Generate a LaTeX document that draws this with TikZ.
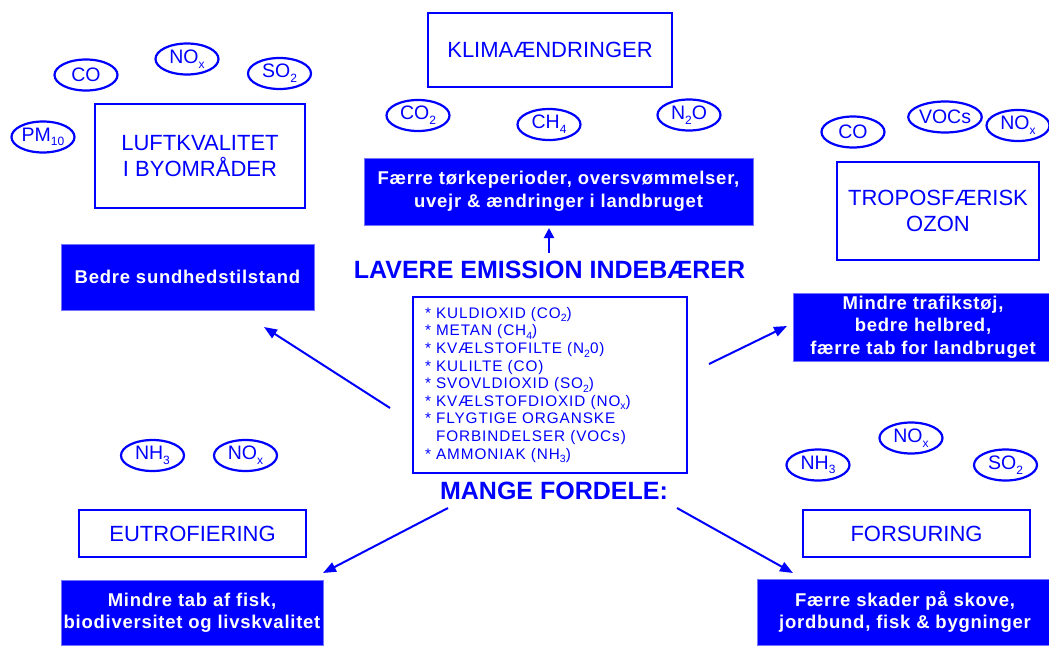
\documentclass[tikz,border=0pt]{standalone}
\usepackage{fontspec}
\setmainfont{Liberation Sans}
\newfontfamily\listfont[LetterSpace=6]{Liberation Sans}
\newfontfamily\boxfont[LetterSpace=4]{Liberation Sans}
\usetikzlibrary{arrows.meta,shapes.geometric}
\definecolor{eblue}{RGB}{0,0,255}
\newcommand{\lo}[2][12]{\raisebox{-0.45ex}{\fontsize{#1}{#1}\selectfont #2}}
\tikzset{
  wbox/.style={draw=eblue, line width=2pt, fill=white, text=eblue,
    font=\fontsize{22}{26}\selectfont, align=center, inner sep=0pt},
  bbox/.style={draw=eblue!55!white, line width=1pt, fill=eblue, text=white,
    font=\boxfont\bfseries\fontsize{18.5}{22.5}\selectfont, align=center, inner sep=0pt},
  gas/.style={ellipse, draw=eblue, line width=2.2pt, text=eblue,
    font=\fontsize{19.5}{19.5}\selectfont, minimum width=63pt, minimum height=31pt, inner sep=0pt},
  arr/.style={draw=eblue, line width=2pt, -{Triangle[length=13pt,width=10pt]}},
  headline/.style={text=eblue, font=\bfseries\fontsize{25}{27}\selectfont, inner sep=0pt}
}
\begin{document}
\begin{tikzpicture}[x=1pt,y=-1pt]
\useasboundingbox (0,0) rectangle (1049,646);
% top centre
\node[wbox, minimum width=244pt, minimum height=74pt] (klima) at (550,49.5) {KLIMAÆNDRINGER};
\node[gas] (tco2) at (418,115.5) {CO\lo{2}};
\node[gas] (tch4) at (549,124.5) {CH\lo{4}};
\node[gas] (tn2o) at (689,115) {N\lo{2}O};
\node[bbox, minimum width=389pt, minimum height=67pt] (torke) at (558.5,191.5)
  {Færre tørkeperioder, oversvømmelser,\\uvejr \& ændringer i landbruget};
\node[headline] (lavere) at (549.5,270) {LAVERE EMISSION INDEBÆRER};
% left top
\node[wbox, minimum width=210pt, minimum height=104pt] (luft) at (200,156) {LUFTKVALITET\\I BYOMRÅDER};
\node[gas] (lco) at (86,75) {CO};
\node[gas] (lnox) at (187,59) {NO\lo{x}};
\node[gas] (lso2) at (279.5,73.5) {SO\lo{2}};
\node[gas] (lpm) at (43,137) {PM\lo{10}};
\node[bbox, minimum width=253pt, minimum height=66pt] (sund) at (187.5,277) {Bedre sundhedstilstand};
% right top
\node[wbox, minimum width=202pt, minimum height=98pt] (ozon) at (938,211) {TROPOSFÆRISK\\OZON};
\node[gas] (rco) at (853,132) {CO};
\node[gas] (rvoc) at (945,117) {VOCs};
\node[gas] (rnox) at (1018,125.5) {NO\lo{x}};
\node[bbox, minimum width=260pt, minimum height=68pt] (trafik) at (923,327)
  {Mindre trafikstøj,\\bedre helbred,\\ færre tab for landbruget};
% centre list
\node[wbox, minimum width=274pt, minimum height=176pt, text width=250pt, align=left,
  font=\listfont\fontsize{15.3}{17.6}\selectfont] (list) at (550,385)
  {* KULDIOXID (CO\lo[10.5]{2})\\
   {*} METAN (CH\lo[10.5]{4})\\
   {*} KVÆLSTOFILTE (N\lo[10.5]{2}0)\\
   {*} KULILTE (CO)\\
   {*} SVOVLDIOXID (SO\lo[10.5]{2})\\
   {*} KVÆLSTOFDIOXID (NO\lo[10.5]{x})\\
   {*} FLYGTIGE ORGANSKE\\
   \phantom{*} FORBINDELSER (VOCs)\\
   {*} AMMONIAK (NH\lo[10.5]{3})};
\node[headline] (mange) at (554,491) {MANGE FORDELE:};
% bottom left
\node[gas] (bnh3) at (152.5,455.5) {NH\lo{3}};
\node[gas] (bnox) at (245.5,455.5) {NO\lo{x}};
\node[wbox, minimum width=227pt, minimum height=47pt] (eutro) at (192.5,533.5) {EUTROFIERING};
\node[bbox, minimum width=262pt, minimum height=65pt] (fisk) at (192,612.5)
  {Mindre tab af fisk,\\biodiversitet og livskvalitet};
% bottom right
\node[gas] (rnh3) at (818,465) {NH\lo{3}};
\node[gas] (rnox2) at (911,438) {NO\lo{x}};
\node[gas] (rso2) at (1005.5,465) {SO\lo{2}};
\node[wbox, minimum width=227pt, minimum height=47pt] (fors) at (916.5,533.5) {FORSURING};
\node[bbox, minimum width=296pt, minimum height=66pt] (skader) at (905,612)
  {Færre skader på skove,\\ jordbund, fisk \& bygninger};
% arrows
\coordinate (a1s) at (390,408); \coordinate (a1e) at (264,327);
\coordinate (a2s) at (709,364); \coordinate (a2e) at (787,326);
\coordinate (a3s) at (448,508); \coordinate (a3e) at (323,573);
\coordinate (a4s) at (677,508); \coordinate (a4e) at (793,573);
\coordinate (a5s) at (549,253); \coordinate (a5e) at (549,228);
\draw[arr] (a1s) -- (a1e);
\draw[arr] (a2s) -- (a2e);
\draw[arr] (a3s) -- (a3e);
\draw[arr] (a4s) -- (a4e);
\draw[arr, -{Triangle[length=10pt,width=10pt]}] (a5s) -- (a5e);
\end{tikzpicture}
\end{document}
